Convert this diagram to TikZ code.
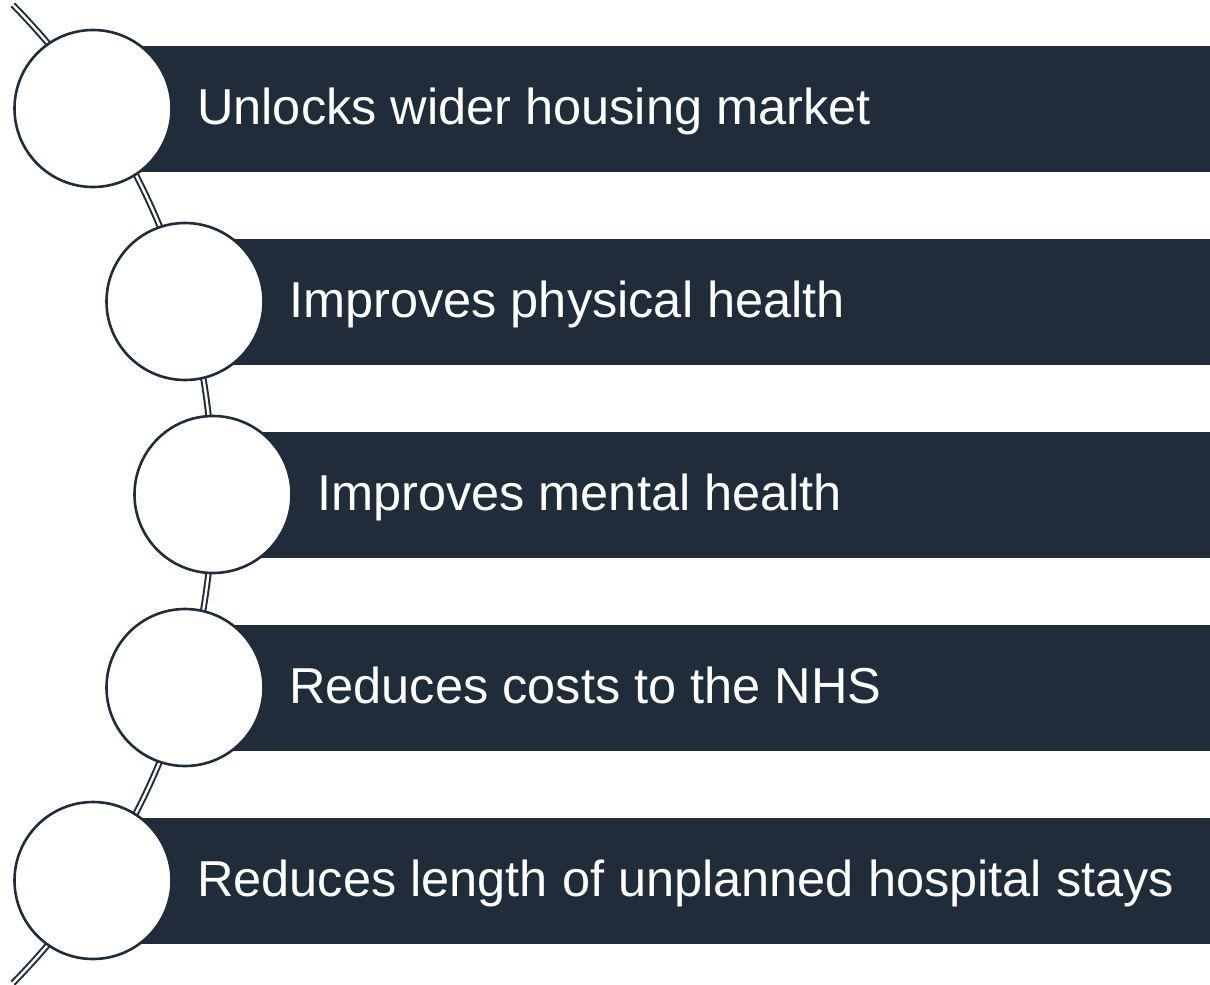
\documentclass[tikz,border=0pt]{standalone}
\usepackage{fontspec}
\setmainfont{Liberation Sans}
\definecolor{navy}{RGB}{32,44,58}
\begin{document}
\begin{tikzpicture}[x=1pt,y=1pt,
  bar/.style={fill=navy,draw=none},
  disc/.style={circle,draw=navy,line width=2.6pt,fill=white,minimum size=157pt,inner sep=0pt},
  label/.style={anchor=base west,text=white,font=\fontsize{50.5}{60}\selectfont,inner sep=0pt},
  rail/.style={draw=navy,line width=2pt,double=white,double distance=2.4pt}]
\useasboundingbox (0,0) rectangle (1210,-985);
% curved spine behind the discs
\coordinate (spine) at (-485,-494);
\draw[rail] (spine) ++(44.5:698) arc[start angle=44.5,end angle=-44.5,radius=698];
% bars
\foreach \cx/\cy in {93/-108.5, 185/-301.5, 213/-494.5, 185/-687.5, 93/-880.5}{
  \fill[navy] (\cx,\cy+63) rectangle (1210,\cy-63);
}
% discs
\node[disc] (c1) at (93,-108.5) {};
\node[disc] (c2) at (185,-301.5) {};
\node[disc] (c3) at (213,-494.5) {};
\node[disc] (c4) at (185,-687.5) {};
\node[disc] (c5) at (93,-880.5) {};
% labels
\node[label] (t1) at (197,-124.5) {Unlocks wider housing market};
\node[label] (t2) at (289,-317.5) {Improves physical health};
\node[label] (t3) at (317,-510.5) {Improves mental health};
\node[label] (t4) at (289,-703.5) {Reduces costs to the NHS};
\node[label] (t5) at (197,-896.5) {Reduces length of unplanned hospital stays};
\end{tikzpicture}
\end{document}
